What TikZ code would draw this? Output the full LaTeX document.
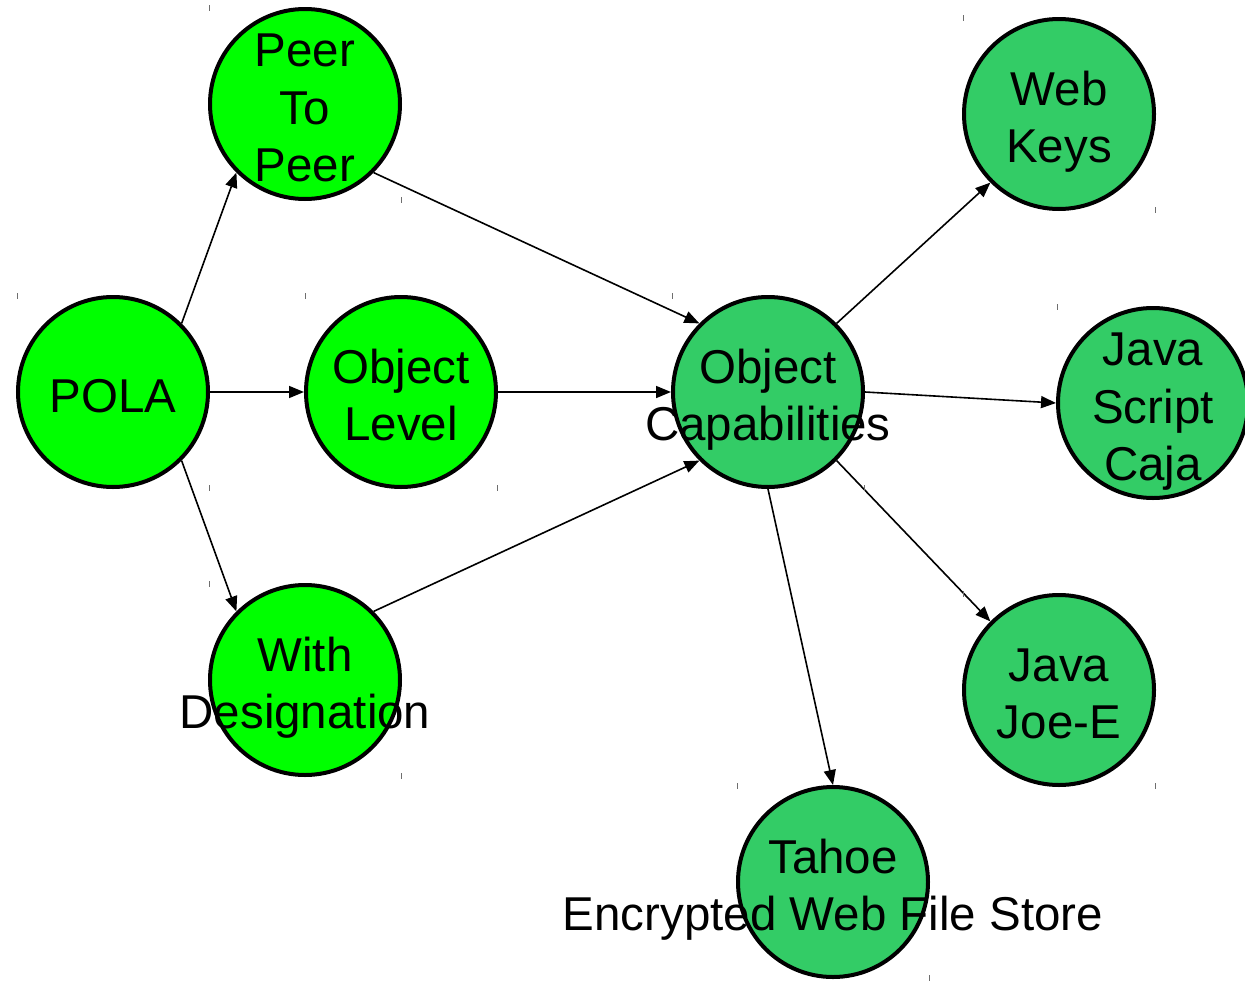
\documentclass[tikz,border=0pt]{standalone}
\usepackage{fontspec}
\setmainfont{Liberation Sans}
\usetikzlibrary{arrows.meta}
\definecolor{brightgreen}{RGB}{0,255,0}
\definecolor{midgreen}{RGB}{51,204,102}
\definecolor{tickgray}{RGB}{110,110,110}
\tikzset{
  bubble/.style={circle, draw=black, line width=4pt, minimum size=190pt, inner sep=0pt},
  bubbleA/.style={bubble, fill=brightgreen},
  bubbleB/.style={bubble, fill=midgreen},
  label text/.style={inner sep=0pt, align=center, font=\fontsize{47.5}{57.5}\selectfont},
  arr/.style={line width=1.6pt, -{Triangle[length=15pt,width=12pt]}},
  tickmark/.style={tickgray, line width=1pt}
}
\newcommand{\st}{\strut}
\begin{document}
\begin{tikzpicture}[x=1pt,y=-1pt]
\useasboundingbox (0,0) rectangle (1245,980);
% circles
\node[bubbleA] (pola) at (113,392) {};
\node[bubbleA] (p2p) at (305,104) {};
\node[bubbleA] (olev) at (401,392) {};
\node[bubbleA] (wdes) at (305,680) {};
\node[bubbleB] (ocap) at (768,392) {};
\node[bubbleB] (wkeys) at (1059,114) {};
\node[bubbleB] (jsc) at (1153,403) {};
\node[bubbleB] (joee) at (1059,690) {};
\node[bubbleB] (tahoe) at (833,882) {};
% texts
\node[label text] (tpola) at (113,400.5) {\st POLA};
\node[label text] (tp2p) at (305,112.5) {\st Peer\\\st To\\\st Peer};
\node[label text] (tolev) at (401,400.5) {\st Object\\\st Level};
\node[label text] (twdes) at (305,688.5) {\st With\\\st Designation};
\node[label text] (tocap) at (768,400.5) {\st Object\\\st Capabilities};
\node[label text] (twkeys) at (1059,122.5) {\st Web\\\st Keys};
\node[label text] (tjsc) at (1153,411.5) {\st Java\\\st Script\\\st Caja};
\node[label text] (tjoee) at (1059,698.5) {\st Java\\\st Joe-E};
\node[label text] (ttahoe) at (833,890.5) {\st Tahoe\\\st Encrypted Web File Store};
% connectors
\draw[arr] (pola.north east) -- (p2p.south west);
\draw[arr] (pola.east) -- (olev.west);
\draw[arr] (pola.south east) -- (wdes.north west);
\draw[arr] (p2p.south east) -- (ocap.north west);
\draw[arr] (olev.east) -- (ocap.west);
\draw[arr] (wdes.north east) -- (ocap.south west);
\draw[arr] (ocap.north east) -- (wkeys.south west);
\draw[arr] (ocap.east) -- (jsc.west);
\draw[arr] (ocap.south east) -- (joee.north west);
\draw[arr] (ocap.south) -- (tahoe.north);
% small corner ticks
\foreach \cx/\cy in {113/392,305/104,401/392,305/680,768/392,1059/114,1153/403,1059/690,833/882}{
  \draw[tickmark] (\cx-96,\cy-99) -- (\cx-96,\cy-93);
  \draw[tickmark] (\cx+96,\cy+93) -- (\cx+96,\cy+99);
}
\end{tikzpicture}
\end{document}
